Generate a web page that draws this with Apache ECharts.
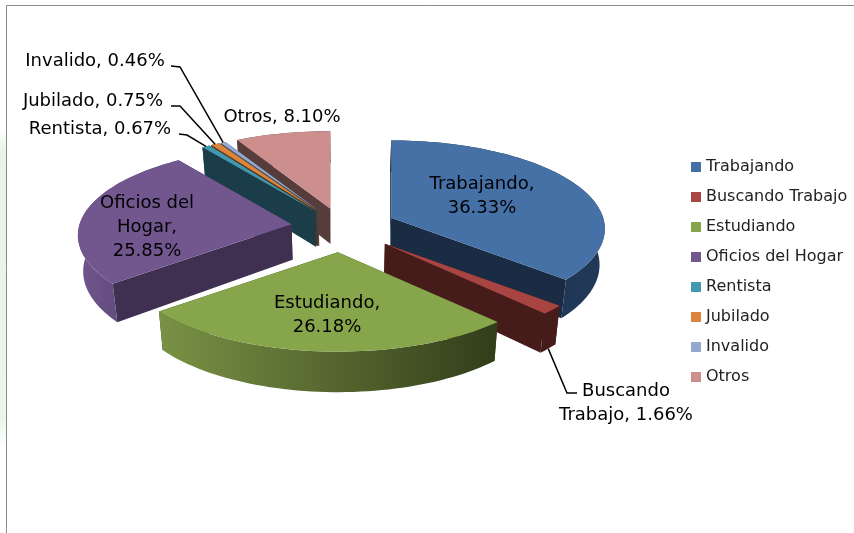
<!DOCTYPE html>
<html>
<head>
<meta charset="utf-8">
<style>html,body{margin:0;background:#fff}#main{width:854px;height:533px}</style>
<script src="https://cdn.jsdelivr.net/npm/echarts@6/dist/echarts.min.js"></script>
</head>
<body>
<div id="main"></div>
<script>
const categories = ["Trabajando", "Buscando Trabajo", "Estudiando", "Oficios del Hogar", "Rentista", "Jubilado", "Invalido", "Otros"]
const shares = [36.33, 1.66, 26.18, 25.85, 0.67, 0.75, 0.46, 8.10]

const topColors = ["#4571a6", "#a84543", "#87a54b", "#72578f", "#4198af", "#db843d", "#93a9cf", "#cc8f8d"]
const wallColors = ["#1a2c44", "#451c1a", "#38441d", "#3f3052", "#1b3d49", "#5a3517", "#3e4857", "#573c3c"]
const rimColors = [["#1a2c44", "#22395a"], ["#451c1a", "#451c1a"], ["#7a9245", "#323d1a"], ["#6f558c", "#4f3c68"],
    ["#1b3d49", "#1b3d49"], ["#5a3517", "#5a3517"], ["#3e4857", "#3e4857"], ["#573c3c", "#573c3c"]]

// how far each slice is pulled out, in pie radii
const explode = [0.255, 0.28, 0.29, 0.24, 0.22, 0.22, 0.22, 0.22]
// back to front
const drawOrder = [7, 6, 5, 4, 0, 3, 1, 2]

const labelLines = [["Trabajando,", "36.33%"], ["Buscando", "Trabajo, 1.66%"], ["Estudiando,", "26.18%"],
    ["Oficios del", "Hogar,", "25.85%"], ["Rentista, 0.67%"], ["Jubilado, 0.75%"], ["Invalido, 0.46%"], ["Otros, 8.10%"]]
const labelCenters = [[482, 196], [626, 403], [327, 315], [147, 227], [100, 129], [93, 101], [95, 61], [282, 117]]
// label end and elbow of the leader lines, the third point comes from the slice
const leaders = { 1: [[577, 393], [567, 393]], 4: [[179, 134], [187, 135]], 5: [[171, 106], [180, 106]], 6: [[171, 66], [180, 67]] }

const cx = 342, cy = 227
const A = 212, B = 87, D = 8, H = 35.5
const font = '18px "DejaVu Sans"'

const total = shares.reduce((a, b) => a + b, 0)
const startAngles = []
shares.reduce((acc, v, i) => { startAngles[i] = acc / total * 2 * Math.PI; return acc + v }, 0)

function project(i, theta, r, lower){
    let mid = startAngles[i] + shares[i] / total * Math.PI
    let ax = cx + A * explode[i] * Math.sin(mid)
    let ay = cy - B * explode[i] * Math.cos(mid)
    let X = r * Math.sin(theta)
    let Y = -r * Math.cos(theta)
    // nearer parts of the slice look bigger
    let s = 1 / (1 - Y / D)
    let x = ax + A * X * s
    let y = ay + B * Y * s
    if (lower){
        x = cx + (x - cx) * 0.98
        y += H * s
    }
    return [x, y]
}

function renderSlice(params, api){
    let i = drawOrder[params.seriesIndex]
    let a0 = startAngles[i]
    let a1 = a0 + api.value(0) / total * 2 * Math.PI
    let arcTop = [], arcBottom = []
    let n = Math.max(2, Math.ceil((a1 - a0) / 0.03))
    for (let k = 0; k <= n; k++){
        let t = a0 + (a1 - a0) * k / n
        arcTop.push(project(i, t, 1, false))
        arcBottom.push(project(i, t, 1, true))
    }
    let apexTop = project(i, 0, 0, false)
    let apexBottom = project(i, 0, 0, true)
    let wall = (p, q) => ({
        type: "polygon",
        shape: { points: [apexTop, p, q, apexBottom] },
        style: { fill: wallColors[i] }
    })
    let children = [
        wall(arcTop[0], arcBottom[0]),
        wall(arcTop[n], arcBottom[n]),
        {
            type: "polygon",
            shape: { points: arcTop.concat(arcBottom.slice().reverse()) },
            style: {
                fill: new echarts.graphic.LinearGradient(0, 0, 1, 0, [
                    { offset: 0, color: rimColors[i][0] },
                    { offset: 1, color: rimColors[i][1] }
                ])
            }
        },
        {
            type: "polygon",
            shape: { points: [apexTop].concat(arcTop) },
            style: { fill: topColors[i] }
        }
    ]
    if (leaders[i]){
        let mid = (a0 + a1) / 2
        children.push({
            type: "polyline",
            shape: { points: leaders[i].concat([project(i, mid, 1, i === 1)]) },
            style: { stroke: "#000", lineWidth: 1.5, fill: null }
        })
    }
    labelLines[i].forEach((line, k) => {
        children.push({
            type: "text",
            x: labelCenters[i][0],
            y: labelCenters[i][1] + (k - (labelLines[i].length - 1) / 2) * 24,
            style: { text: line, font: font, fill: "#000", align: "center", verticalAlign: "middle" }
        })
    })
    return { type: "group", children: children }
}

let myChart = echarts.init(document.getElementById("main"))
let option = {
    animation: false,
    backgroundColor: "#fff",
    legend: {
        orient: "vertical",
        left: 686,
        top: 154,
        itemWidth: 10,
        itemHeight: 10,
        itemGap: 14,
        selectedMode: false,
        icon: "rect",
        textStyle: { fontFamily: "DejaVu Sans", fontSize: 16, color: "#222" },
        data: categories.map((name, i) => ({ name: name, itemStyle: { color: topColors[i] } }))
    },
    graphic: [
        {
            type: "rect",
            silent: true,
            shape: { x: 0, y: 130, width: 6, height: 320 },
            style: {
                fill: new echarts.graphic.LinearGradient(0, 0, 0, 1, [
                    { offset: 0, color: "#ffffff" },
                    { offset: 0.06, color: "#e6f5e6" },
                    { offset: 0.9, color: "#e9f7e9" },
                    { offset: 1, color: "#ffffff" }
                ])
            }
        },
        {
            type: "polyline",
            silent: true,
            shape: { points: [[6.5, 533], [6.5, 5.5], [854, 5.5]] },
            style: { stroke: "#8c8c8c", lineWidth: 1, fill: null }
        }
    ],
    series: drawOrder.map((i, order) => ({
        type: "custom",
        name: categories[i],
        coordinateSystem: "none",
        z: 2 + order,
        silent: true,
        itemStyle: { color: topColors[i] },
        renderItem: renderSlice,
        data: [[shares[i]]]
    }))
}
myChart.setOption(option)
</script>
</body>
</html>
